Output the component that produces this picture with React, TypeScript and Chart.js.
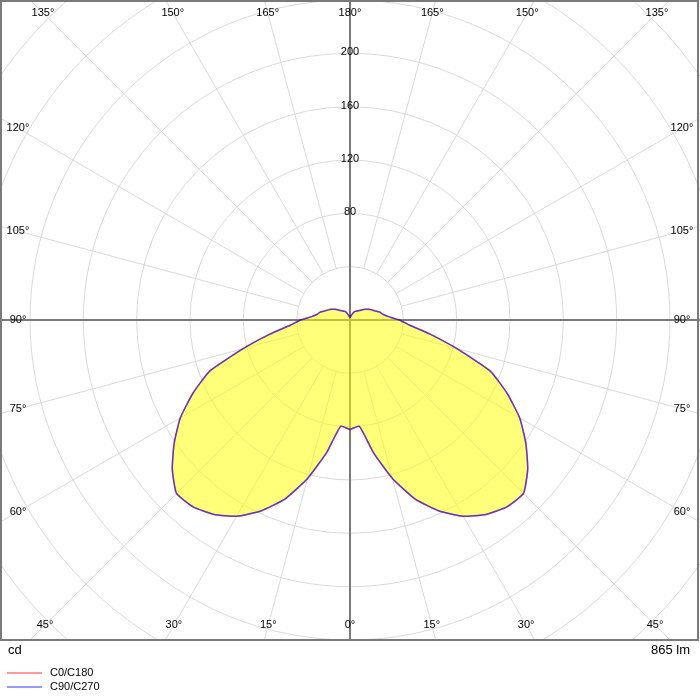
import React, { useEffect, useRef } from "react";
import { Chart, registerables } from "chart.js";

Chart.register(...registerables);

// Gamma angles (deg, 0 = straight down) and luminous intensity (cd)
const gammaDeg = [0, 5, 10, 15, 20, 25, 30, 35, 40, 45, 50, 55, 60, 65, 70, 75, 80, 85, 90, 95, 100, 105, 110, 115, 120, 125, 130, 135, 140, 145, 150, 155, 160, 165, 170, 175, 180];
const intensityC0C180 = [82, 80, 101, 123, 143, 158, 170, 178, 183, 184, 174, 161, 147, 130, 112, 83, 61, 45, 37, 29, 25, 23, 20, 18, 16, 14, 12, 10, 9, 8, 7.5, 6, 4.5, 3.5, 2.5, 2, 1.5];
const intensityC90C270 = [82, 80, 101, 123, 143, 158, 170, 178, 183, 184, 174, 161, 147, 130, 112, 83, 61, 45, 37, 29, 25, 23, 20, 18, 16, 14, 12, 10, 9, 8, 7.5, 6, 4.5, 3.5, 2.5, 2, 1.5];

const ringValues = [40, 80, 120, 160, 200, 240, 280, 320, 360, 400];
const ringLabelValues = [80, 120, 160, 200];
const angleLabelValues = [0, 15, 30, 45, 60, 75, 90, 105, 120, 135, 150, 165, 180];
const seriesNames = ["C0/C180", "C90/C270"];
const unitText = "cd";
const fluxText = "865 lm";

const RED_LINE = "rgba(255,0,0,0.5)";
const BLUE_LINE = "rgba(0,0,255,0.6)";
const RED_LEGEND = "rgba(255,0,0,0.4)";
const BLUE_LEGEND = "rgba(0,0,255,0.4)";

function toPoints(values: number[]) {
  const pts: { x: number; y: number }[] = [];
  for (let i = gammaDeg.length - 1; i >= 0; i--) {
    const g = (gammaDeg[i] * Math.PI) / 180;
    pts.push({ x: -values[i] * Math.sin(g), y: -values[i] * Math.cos(g) });
  }
  for (let i = 1; i < gammaDeg.length; i++) {
    const g = (gammaDeg[i] * Math.PI) / 180;
    pts.push({ x: values[i] * Math.sin(g), y: -values[i] * Math.cos(g) });
  }
  return pts;
}

const FONT_SMALL = '11px "Liberation Sans", Arial, sans-serif';
const FONT_MED = '13px "Liberation Sans", Arial, sans-serif';

const polarGrid = {
  id: "polarGrid",
  beforeDatasetsDraw(chart: any) {
    const { ctx, chartArea: a, scales } = chart;
    const xs = scales.x;
    const ys = scales.y;
    const cx = xs.getPixelForValue(0);
    const cy = ys.getPixelForValue(0);
    const k = xs.getPixelForValue(1) - cx;
    ctx.save();
    ctx.beginPath();
    ctx.rect(a.left, a.top, a.right - a.left, a.bottom - a.top);
    ctx.clip();

    ctx.strokeStyle = "#d9d9d9";
    ctx.lineWidth = 1;
    for (const v of ringValues) {
      ctx.beginPath();
      ctx.arc(cx, cy, v * k, 0, Math.PI * 2);
      ctx.stroke();
    }
    for (let g = 0; g < 360; g += 15) {
      if (g % 90 === 0) continue;
      const r = (g * Math.PI) / 180;
      const dx = Math.sin(r);
      const dy = Math.cos(r);
      const r0 = ringValues[0] * k;
      const r1 = 1000;
      ctx.beginPath();
      ctx.moveTo(cx + dx * r0, cy + dy * r0);
      ctx.lineTo(cx + dx * r1, cy + dy * r1);
      ctx.stroke();
    }

    ctx.strokeStyle = "#7a7a7a";
    ctx.lineWidth = 2;
    ctx.beginPath();
    ctx.moveTo(a.left, cy);
    ctx.lineTo(a.right, cy);
    ctx.moveTo(cx, a.top);
    ctx.lineTo(cx, a.bottom);
    ctx.stroke();

    ctx.fillStyle = "#000";
    ctx.font = FONT_SMALL;
    ctx.textAlign = "center";
    ctx.textBaseline = "middle";
    for (const v of ringLabelValues) {
      ctx.fillText(String(v), cx, cy - v * k - 1);
    }

    const left = a.left + 18;
    const right = a.right - 18;
    const top = a.top + 13;
    const bottom = a.bottom - 15;
    for (const side of [-1, 1]) {
      for (const g of angleLabelValues) {
        if ((g === 0 || g === 180) && side === 1) continue;
        const r = (g * Math.PI) / 180;
        const dx = side * Math.sin(r);
        const dy = Math.cos(r);
        let t = Infinity;
        if (dx < -1e-9) t = Math.min(t, (cx - left) / -dx);
        if (dx > 1e-9) t = Math.min(t, (right - cx) / dx);
        if (dy < -1e-9) t = Math.min(t, (cy - top) / -dy);
        if (dy > 1e-9) t = Math.min(t, (bottom - cy) / dy);
        ctx.fillText(g + "°", cx + dx * t, cy + dy * t);
      }
    }
    ctx.restore();
  },
  afterDraw(chart: any) {
    const { ctx, chartArea: a } = chart;
    ctx.save();
    ctx.strokeStyle = "#7a7a7a";
    ctx.lineWidth = 2;
    ctx.strokeRect(a.left + 1, a.top + 1, a.right - a.left - 3, a.bottom - a.top - 1);

    ctx.fillStyle = "#000";
    ctx.font = FONT_MED;
    ctx.textBaseline = "middle";
    ctx.textAlign = "left";
    ctx.fillText(unitText, a.left + 8, a.bottom + 10);
    ctx.textAlign = "right";
    ctx.fillText(fluxText, a.right - 10, a.bottom + 10);

    const colors = [RED_LEGEND, BLUE_LEGEND];
    ctx.font = FONT_SMALL;
    ctx.textAlign = "left";
    seriesNames.forEach((name, i) => {
      const y = a.bottom + 33 + i * 14;
      ctx.strokeStyle = colors[i];
      ctx.lineWidth = 2;
      ctx.beginPath();
      ctx.moveTo(a.left + 7, y);
      ctx.lineTo(a.left + 42, y);
      ctx.stroke();
      ctx.fillStyle = "#000";
      ctx.fillText(name, a.left + 50, y);
    });
    ctx.restore();
  },
};

export default function App() {
  const ref = useRef<HTMLCanvasElement>(null);
  useEffect(() => {
    if (!ref.current) return;
    const chart = new Chart(ref.current, {
      type: "scatter",
      data: {
        datasets: [
          {
            label: seriesNames[0],
            data: toPoints(intensityC0C180),
            showLine: true,
            fill: "shape",
            backgroundColor: "rgba(255,255,0,0.52)",
            borderColor: RED_LINE,
            borderWidth: 1.5,
            pointRadius: 0,
            tension: 0.15,
            order: 1,
          },
          {
            label: seriesNames[1],
            data: toPoints(intensityC90C270),
            showLine: true,
            fill: false,
            borderColor: BLUE_LINE,
            borderWidth: 1.5,
            pointRadius: 0,
            tension: 0.15,
            order: 0,
          },
        ],
      },
      options: {
        responsive: false,
        maintainAspectRatio: false,
        animation: false,
        layout: { padding: { left: 0, right: 0, top: 0, bottom: 60 } },
        scales: {
          x: { type: "linear", min: -262.5, max: 262.5, display: false },
          y: { type: "linear", min: -240, max: 240, display: false },
        },
        plugins: {
          legend: { display: false },
          tooltip: { enabled: false },
        },
      },
      plugins: [polarGrid],
    });
    return () => chart.destroy();
  }, []);
  return (
    <div style={{ position: "absolute", left: 0, top: 0, width: 700, height: 700, background: "#fff" }}>
      <canvas ref={ref} width={700} height={700} style={{ width: 700, height: 700, display: "block" }} />
    </div>
  );
}
